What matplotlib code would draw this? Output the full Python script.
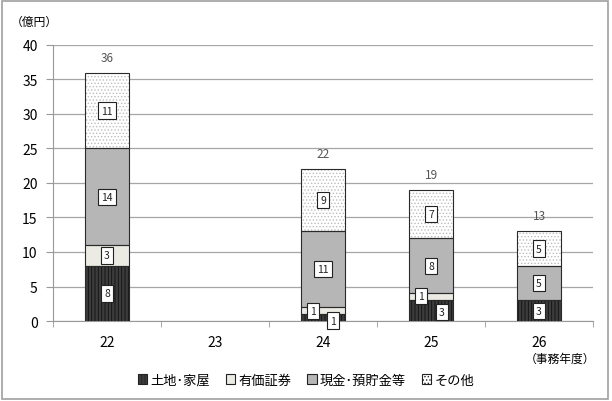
import matplotlib.pyplot as plt
import numpy as np
from matplotlib.patches import Patch, Rectangle

plt.rcParams['font.family'] = ['Noto Sans CJK JP', 'DejaVu Sans']
plt.rcParams['hatch.linewidth'] = 0.6

# Data (億円)
years = ['22', '23', '24', '25', '26']
land = [8, 0, 1, 3, 3]          # 土地・家屋
securities = [3, 0, 1, 1, 0]    # 有価証券
cash = [14, 0, 11, 8, 5]        # 現金・預貯金等
other = [11, 0, 9, 7, 5]        # その他
totals = [36, None, 22, 19, 13]

series = [
    ('土地･家屋', land, '#3c3c3c', '|||||', '#111111'),
    ('有価証券', securities, '#ebebe4', None, '#ebebe4'),
    ('現金･預貯金等', cash, '#b6b6b6', None, '#b6b6b6'),
    ('その他', other, '#ffffff', '.....', '#bdbdbd'),
]

# label offsets (pixels) for small segments that would overlap
offsets = {(0, 2): (10, -3), (1, 2): (-10, 0), (1, 3): (-10, 1), (0, 3): (11, -1)}

fig = plt.figure(figsize=(6.12, 4.02), dpi=100)
ax = fig.add_axes([0.0866, 0.199, 0.8824, 0.6866])
x = np.arange(len(years))
width = 0.4
bottom = np.zeros(len(years))

for si, (name, vals, fc, hatch, hc) in enumerate(series):
    vals = np.array(vals, dtype=float)
    m = vals > 0
    ax.bar(x[m], vals[m], width, bottom=bottom[m], color=fc, hatch=hatch,
           edgecolor=hc, linewidth=0, zorder=3)
    ax.bar(x[m], vals[m], width, bottom=bottom[m], fill=False,
           edgecolor='#2a2a2a', linewidth=0.8, zorder=4)
    for i, v in enumerate(vals):
        if v <= 0:
            continue
        dx, dy = offsets.get((si, i), (0, 0))
        ax.annotate(f'{int(v)}', (x[i], bottom[i] + v / 2), xytext=(dx, dy),
                    textcoords='offset pixels', ha='center', va='center',
                    fontsize=7.5, color='#222222', zorder=6,
                    bbox=dict(boxstyle='square,pad=0.3', fc='white',
                              ec='#222222', lw=0.8))
    bottom += vals

for i, t in enumerate(totals):
    if t is None:
        continue
    ax.text(x[i], t + 1.3, str(t), ha='center', va='bottom',
            fontsize=8.5, color='#555555')

ax.set_xlim(-0.5, len(years) - 0.5)
ax.set_ylim(0, 40)
ax.set_yticks(range(0, 41, 5))
ax.set_xticks(x)
ax.set_xticklabels(years, fontsize=10)
ax.set_xticks(np.arange(-0.5, len(years)), minor=True)
ax.tick_params(axis='x', which='major', length=0, pad=10)
ax.tick_params(axis='x', which='minor', length=4, color='#999999')
ax.tick_params(axis='y', labelsize=10, length=5, color='#999999', pad=6)
ax.grid(axis='y', color='#a6a6a6', linewidth=0.9, zorder=0)
for s in ['top', 'right']:
    ax.spines[s].set_visible(False)
for s in ['left', 'bottom']:
    ax.spines[s].set_color('#999999')

fig.text(0.018, 0.945, '（億円）', fontsize=8.5, ha='left', va='center')
fig.text(0.915, 0.107, '（事務年度）', fontsize=8.5, ha='center', va='center')

handles = [Patch(facecolor=fc, hatch=hatch, edgecolor='#222222', linewidth=0.8)
           for name, vals, fc, hatch, hc in series]
fig.legend(handles, [s[0] for s in series], loc='center', ncol=4,
           bbox_to_anchor=(0.5, 0.052), frameon=False, fontsize=9.5,
           handlelength=0.7, handleheight=0.7, handletextpad=0.25,
           columnspacing=1.2)

fig.patches.append(Rectangle((0.003, 0.006), 0.99, 0.988, transform=fig.transFigure,
                             fill=False, edgecolor='#a0a0a0', linewidth=1.2))

fig.savefig('out.png', dpi=100)
